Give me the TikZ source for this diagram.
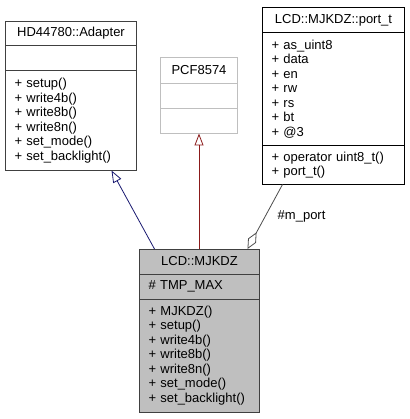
\documentclass[tikz,border=0pt]{standalone}
\usepackage{fontspec}
\setmainfont{Liberation Sans}
\usetikzlibrary{arrows.meta,positioning}

\tikzset{
  cls/.style={draw=#1, line width=1pt, outer sep=0pt, inner xsep=9pt, inner ysep=0pt,
              font=\fontsize{13}{14.5}\selectfont},
  title/.style={cls=#1, align=center},
  part/.style={cls=#1, align=left},
  inherit/.style={line width=0.8pt, -{Triangle[open,length=12pt,width=9pt]}},
  uses/.style={line width=0.8pt, draw=black!70, {Diamond[open,length=19pt,width=9pt]}-}
}

\begin{document}
\begin{tikzpicture}[x=1pt,y=-1pt]
            \useasboundingbox (0,0) rectangle (409,419);

            % HD44780::Adapter
            \node[title=black!75, text width=113pt, minimum height=24pt, anchor=north west] (adapterT) at (5.5,21.5) {HD44780::Adapter};
            \node[part=black!75, text width=113pt, minimum height=25pt] (adapterA) [below=0pt of adapterT] {};
            \node[part=black!75, text width=113pt, minimum height=100pt] (adapterM) [below=0pt of adapterA]
                {+ setup()\\+ write4b()\\+ write8b()\\+ write8n()\\+ set\_mode()\\+ set\_backlight()};

            % PCF8574
            \node[title=black!25, text width=59pt, minimum height=26pt, anchor=north west] (pcfT) at (160.5,57.5) {PCF8574};
            \node[part=black!25, text width=59pt, minimum height=25pt] (pcfA) [below=0pt of pcfT] {};
            \node[part=black!25, text width=59pt, minimum height=25pt] (pcfM) [below=0pt of pcfA] {};

            % LCD::MJKDZ::port_t
            \node[title=black, text width=124pt, minimum height=25pt, anchor=north west] (portT) at (262.5,7.5) {LCD::MJKDZ::port\_t};
            \node[part=black, text width=124pt, minimum height=113pt] (portA) [below=0pt of portT]
                {+ as\_uint8\\+ data\\+ en\\+ rw\\+ rs\\+ bt\\+ @3};
            \node[part=black, text width=124pt, minimum height=39pt] (portM) [below=0pt of portA]
                {+ operator uint8\_t()\\+ port\_t()};

            % LCD::MJKDZ
            \node[title=black!75, fill=black!25, text width=102pt, minimum height=25pt, anchor=north west] (mjkdzT) at (139.5,249) {LCD::MJKDZ};
            \node[part=black!75, fill=black!25, text width=102pt, minimum height=25pt] (mjkdzA) [below=0pt of mjkdzT] {\# TMP\_MAX};
            \node[part=black!75, fill=black!25, text width=102pt, minimum height=113pt] (mjkdzM) [below=0pt of mjkdzA]
                {+ MJKDZ()\\+ setup()\\+ write4b()\\+ write8b()\\+ write8n()\\+ set\_mode()\\+ set\_backlight()};

            \draw[inherit, draw={rgb,255:red,25;green,25;blue,112}]
                ([xshift=15pt]mjkdzT.north west) -- ([xshift=106pt]adapterM.south west);
            \draw[inherit, draw={rgb,255:red,139;green,26;blue,26}]
                (pcfM.south |- mjkdzT.north) -- (pcfM.south);
            \draw[uses]
                ([xshift=108pt]mjkdzT.north west) -- ([xshift=20pt]portM.south west)
                    node[midway, right=9pt, font=\fontsize{13}{14.5}\selectfont] (mport) {\#m\_port};
\end{tikzpicture}
\end{document}
